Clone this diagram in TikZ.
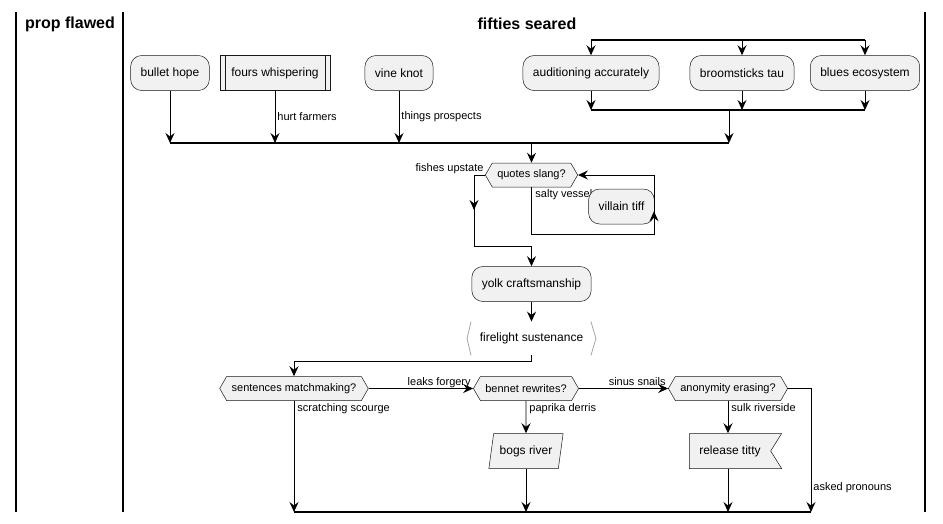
\documentclass[tikz,border=0pt]{standalone}
\usepackage{fontspec}
\setmainfont{Liberation Sans}
\usetikzlibrary{arrows.meta,positioning,shapes.symbols,shapes.geometric,decorations.markings}

\definecolor{actfill}{RGB}{241,241,241}
\definecolor{actline}{RGB}{24,24,24}

\tikzset{
  act/.style={draw=actline,line width=0.5pt,fill=actfill,rounded corners=11pt,
    minimum height=35pt,inner xsep=10pt,font=\fontsize{12}{14}\selectfont},
  sub/.style={act,sharp corners},
  cond/.style={signal,signal to=west and east,signal pointer angle=120,draw=actline,
    line width=0.5pt,fill=actfill,minimum height=24pt,inner xsep=5pt,
    font=\fontsize{11}{13}\selectfont},
  lbl/.style={font=\fontsize{11}{13}\selectfont,inner sep=1pt},
  lanetitle/.style={font=\bfseries\fontsize{16}{19}\selectfont},
  lane/.style={line width=1.5pt},
  bar/.style={line width=1.5pt},
  brk/.style={draw=black!35,line width=0.8pt},
  midarrow/.style={postaction={decorate},
    decoration={markings,mark=at position #1 with {\arrow{>}}}},
}

\begin{document}
\begin{tikzpicture}[>={Stealth[length=10pt,width=9pt,inset=3.5pt]},x=1pt,y=-1pt,line width=0.9pt]
\useasboundingbox (0,0) rectangle (943,523);

% swimlanes
\draw[lane] (16,12) -- (16,512);
\draw[lane] (123,12) -- (123,512);
\draw[lane] (925,12) -- (925,512);
\node[lanetitle] (propflawed) at (70,24) {prop flawed};
\node[lanetitle] (fifties) at (527,24) {fifties seared};

% top row
\node[act] (bh) at (170,73) {bullet hope};
\node[sub,minimum width=110pt] (fw) at (275,73) {fours whispering};
\draw[draw=actline,line width=0.5pt] ([xshift=5pt]fw.north west) -- ([xshift=5pt]fw.south west)
  ([xshift=-5pt]fw.north east) -- ([xshift=-5pt]fw.south east);
\node[act] (vk) at (399,73) {vine knot};
\node[act] (aa) at (591,73) {auditioning accurately};
\node[act] (bt) at (742,73) {broomsticks tau};
\node[act] (be) at (865,73) {blues ecosystem};

% fork and joins
\coordinate (fork) at (591,40);
\coordinate (joina) at (729,110);
\coordinate (joinb) at (729,143);
\draw[bar] (aa.north |- fork) -- (be.north |- fork);
\draw[bar] (aa.south |- joina) -- (be.south |- joina);
\foreach \n in {aa,bt,be} {
  \draw[->] (\n.north |- fork) -- (\n.north);
  \draw[->] (\n.south) -- (\n.south |- joina);
}
\draw[->] (joina) -- (joinb);
\draw[bar] (bh.south |- joinb) -- (joinb);
\draw[->] (bh.south) -- (bh.south |- joinb);
\draw[->] (fw.south) -- (fw.south |- joinb) node[lbl,pos=0.5,right,xshift=1pt] {hurt farmers};
\draw[->] (vk.south) -- (vk.south |- joinb) node[lbl,pos=0.5,right,xshift=1pt] {things prospects};

% while loop
\node[cond] (qs) at (531.5,175) {quotes slang?};
\draw[->] (qs.north |- joinb) -- (qs.north);
\node[lbl,anchor=south east] (fu) at (485,175) {fishes upstate};
\node[lbl,anchor=north west] (sv) at (534,188) {salty vessel};
\node[act] (vt) at (621.5,206.5) {villain tiff};
\node[act] (yk) at (531.5,284) {yolk craftsmanship};
\coordinate (loopb) at (654,234);
\coordinate (skip) at (474,246);
\draw[->,midarrow=192pt] (qs.south) |- (loopb) -- (loopb |- qs.east) -- (qs.east);
\draw[->,midarrow=46pt] (qs.west) -| (skip) -- (skip -| yk.north) -- (yk.north);

% firelight
\node[minimum width=128pt,minimum height=33pt,font=\fontsize{12}{14}\selectfont] (fl) at (531.5,338.5) {firelight sustenance};
\draw[brk] ([xshift=4pt]fl.north west) -- (fl.west) -- ([xshift=4pt]fl.south west);
\draw[brk] ([xshift=-5pt]fl.north east) -- (fl.east) -- ([xshift=-5pt]fl.south east);
\draw[->] (yk.south) -- (fl.north);

% conditions
\node[cond] (sm) at (294,388.5) {sentences matchmaking?};
\node[cond] (br) at (526,388.5) {bennet rewrites?};
\node[cond] (an) at (728,388.5) {anonymity erasing?};
\coordinate (split) at (531.5,361);
\draw[->] (fl.south) -- (split) -| (sm.north);
\draw[->] (sm.east) -- (br.west) node[lbl,pos=1,anchor=base east,xshift=-1pt,yshift=3pt] {leaks forgery};
\draw[->] (br.east) -- (an.west) node[lbl,pos=1,anchor=base east,xshift=-1pt,yshift=3pt] {sinus snails};

\node[trapezium,trapezium left angle=75,trapezium right angle=105,trapezium stretches=true,
  draw=actline,line width=0.5pt,fill=actfill,minimum height=35pt,inner xsep=6pt,
  font=\fontsize{12}{14}\selectfont] (bg) at (526,451) {bogs river};
\node[signal,signal to=nowhere,signal from=east,signal pointer angle=116,draw=actline,line width=0.5pt,
  fill=actfill,minimum height=35pt,inner xsep=10pt,font=\fontsize{12}{14}\selectfont] (rt) at (730,451) {release titty};

\draw[->] (br.south) -- (bg.north) node[lbl,pos=0,anchor=north west,xshift=2pt,yshift=-1pt] {paprika derris};
\draw[->] (an.south) -- (an.south |- rt.north) node[lbl,pos=0,anchor=north west,xshift=2pt,yshift=-1pt] {sulk riverside};

% end merge
\coordinate (endb) at (811,512);
\draw[bar] (sm.south |- endb) -- (endb);
\draw[->] (sm.south) -- (sm.south |- endb) node[lbl,pos=0,anchor=north west,xshift=2pt,yshift=-1pt] {scratching scourge};
\draw[->] (bg.south) -- (bg.south |- endb);
\draw[->] (an.south |- rt.south) -- (an.south |- endb);
\draw[->] (an.east) -| (endb) node[lbl,pos=0.9,right,xshift=1pt] {asked pronouns};
\end{tikzpicture}
\end{document}
